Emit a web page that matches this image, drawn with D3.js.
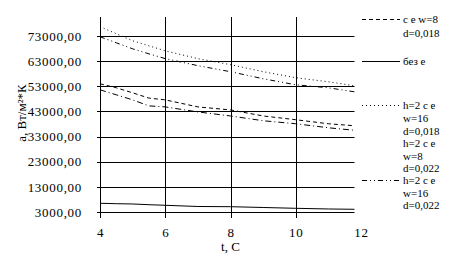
<!DOCTYPE html>
<html>
<head>
<meta charset="utf-8">
<script src="https://cdn.jsdelivr.net/npm/d3@7"></script>
<style>
  body { margin: 0; background: #fff; }
  svg text { font-family: "Liberation Serif", "DejaVu Serif", serif; fill: #000; }
</style>
</head>
<body>
<div id="chart"></div>
<script>
// t, C
const tValues = [4, 4.5, 5, 5.5, 6, 7, 8, 9, 10, 11, 11.8];

// a, W/m2K for each case
const dashedW8 = [54000, 52400, 50400, 48300, 47600, 44800, 43600, 41200, 39700, 38100, 37300];
const plain = [6470, 6300, 6190, 5900, 5670, 5190, 5110, 4790, 4470, 4200, 4080];
const dottedW16 = [76700, 73900, 71100, 69100, 67100, 64000, 61600, 58800, 56400, 54800, 53200];
const w8d022 = [51600, 49600, 47600, 45200, 44800, 42800, 41200, 39300, 38100, 36500, 35500];
const w16d022 = [72700, 70300, 67900, 65900, 64000, 61200, 58800, 56000, 53600, 52400, 50800];

const yTicks = [3000, 13000, 23000, 33000, 43000, 53000, 63000, 73000];
const xTicks = [4, 6, 8, 10, 12];

const legendItems = [
    { lines: ["с е w=8", "d=0,018"], dash: "4,3", ys: [19, 33] },
    { lines: ["без е"], dash: null, ys: [61] },
    { lines: ["h=2 с е", "w=16", "d=0,018"], dash: "1,3", ys: [105, 118, 131] },
    { lines: ["h=2 с е", "w=8", "d=0,022"], dash: "none", ys: [143, 156, 168] },
    { lines: ["h=2 с е", "w=16", "d=0,022"], dash: "5,3,1,3,1,3", ys: [180, 193, 205] }
];

const width = 457, height = 263;
const svg = d3.select("#chart").append("svg").attr("width", width).attr("height", height);

const x = d3.scaleLinear().domain([4, 12]).range([100, 361]);
const y = d3.scaleLinear().domain([3000, 73000]).range([212, 36]);
const plotL = x(4), plotR = x(11.8), plotT = 17, plotB = y(3000);

// grid
svg.append("g").selectAll("line").data(yTicks).join("line")
    .attr("x1", plotL - 3).attr("x2", plotR)
    .attr("y1", d => Math.round(y(d)) + 0.5).attr("y2", d => Math.round(y(d)) + 0.5)
    .attr("stroke", "#000");
svg.append("g").selectAll("line").data(xTicks.filter(d => x(d) <= plotR)).join("line")
    .attr("x1", d => Math.round(x(d)) + 0.5).attr("x2", d => Math.round(x(d)) + 0.5)
    .attr("y1", plotT).attr("y2", plotB + 6)
    .attr("stroke", "#000");

// axes labels via d3 axes
const yAxis = svg.append("g").attr("transform", `translate(${plotL - 15},0)`)
    .call(d3.axisLeft(y).tickValues(yTicks).tickSize(0).tickFormat(d => d3.format(".2f")(d).replace(".", ",")));
yAxis.select(".domain").remove();
yAxis.selectAll("text").attr("font-size", 13).attr("font-family", null).attr("letter-spacing", 0.7);

const xAxis = svg.append("g").attr("transform", `translate(0,${plotB + 13})`)
    .call(d3.axisBottom(x).tickValues(xTicks).tickSize(0).tickFormat(d3.format("d")));
xAxis.select(".domain").remove();
xAxis.selectAll("text").attr("font-size", 13).attr("font-family", null).attr("letter-spacing", 0.7);

svg.append("text").attr("x", x(8)).attr("y", 251).attr("text-anchor", "middle")
    .attr("font-size", 13).text("t, C");
svg.append("text").attr("transform", "translate(26,113) rotate(-90)").attr("text-anchor", "middle")
    .attr("font-size", 13).text("a, Вт/м²*К");

// series
const line = d3.line().x((d, i) => x(tValues[i])).y(d => y(d));
const series = [
    { v: dashedW8, dash: "4,3" },
    { v: plain, dash: null },
    { v: dottedW16, dash: "1,3" },
    { v: w8d022, dash: "6,3,1,3" },
    { v: w16d022, dash: "5,3,1,3,1,3" }
];
svg.append("g").selectAll("path").data(series).join("path")
    .attr("d", d => line(d.v))
    .attr("fill", "none").attr("stroke", "#000").attr("stroke-width", 1)
    .attr("stroke-dasharray", d => d.dash);

// legend
const lg = svg.append("g");
legendItems.forEach(item => {
    if (item.dash !== "none") {
        lg.append("line").attr("x1", 362).attr("x2", 400)
            .attr("y1", item.ys[0] + 0.5).attr("y2", item.ys[0] + 0.5)
            .attr("stroke", "#000").attr("stroke-dasharray", item.dash);
    }
    item.lines.forEach((t, i) => {
        lg.append("text").attr("x", 403).attr("y", item.ys[i]).attr("dy", "0.35em")
            .attr("font-size", 11).text(t);
    });
});
</script>
</body>
</html>
